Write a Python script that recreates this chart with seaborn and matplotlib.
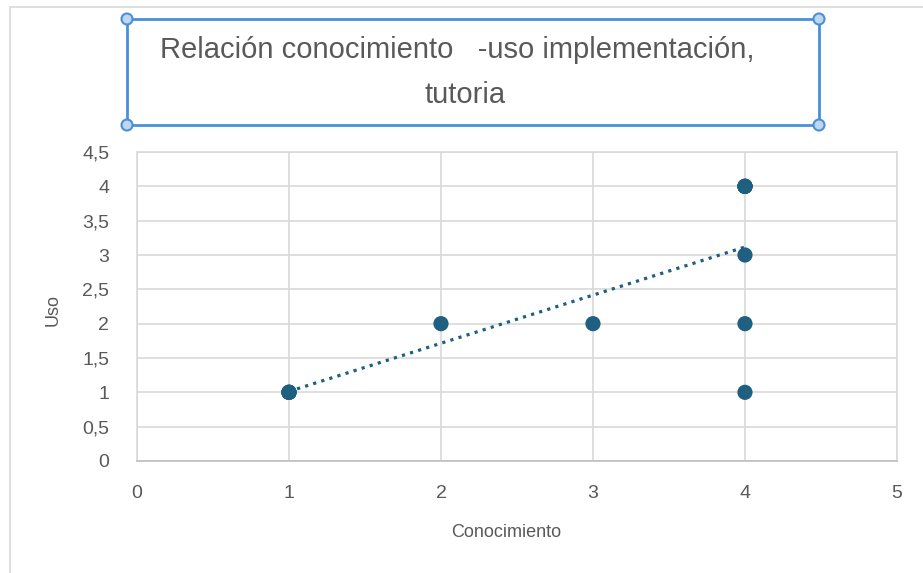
import numpy as np
import pandas as pd
import matplotlib
matplotlib.use("Agg")
import matplotlib.pyplot as plt
import seaborn as sns
from matplotlib.patches import Rectangle, Circle
from matplotlib.lines import Line2D

# data (duplicates at (1,1) and (4,4) explain the trend line)
conocimiento = [1, 1, 1, 1, 2, 3, 4, 4, 4, 4, 4, 4, 4]
uso = [1, 1, 1, 1, 2, 2, 4, 4, 4, 4, 3, 2, 1]
x_ticks = [0, 1, 2, 3, 4, 5]
y_ticks = [0, 0.5, 1, 1.5, 2, 2.5, 3, 3.5, 4, 4.5]
y_labels = ["0", "0,5", "1", "1,5", "2", "2,5", "3", "3,5", "4", "4,5"]

df = pd.DataFrame({"Conocimiento": conocimiento, "Uso": uso})

sns.set_theme(style="white")
plt.rcParams["font.family"] = ["Liberation Sans", "DejaVu Sans"]

text_col = "#595959"
grid_col = "#d9d9d9"
point_col = "#1f5f80"

fig = plt.figure(figsize=(9.23, 5.73), dpi=100)
ax = fig.add_axes([0.1484, 0.1955, 0.8234, 0.5392])

sns.regplot(data=df, x="Conocimiento", y="Uso", ax=ax, ci=None, truncate=True,
            color=point_col,
            scatter_kws={"s": 120, "alpha": 1, "edgecolor": "none", "zorder": 3},
            line_kws={"linestyle": ":", "linewidth": 2.3, "zorder": 2})

ax.set_xlim(0, 5)
ax.set_ylim(0, 4.5)
ax.set_xticks(x_ticks)
ax.set_xticklabels([str(t) for t in x_ticks])
ax.set_yticks(y_ticks)
ax.set_yticklabels(y_labels)
ax.grid(True, color=grid_col, linewidth=1.2)
ax.set_axisbelow(True)
for s in ax.spines.values():
    s.set_color(grid_col)
    s.set_linewidth(1.2)
ax.spines["bottom"].set_color("#bfbfbf")
ax.tick_params(axis="both", length=0, labelsize=14, colors=text_col)
ax.tick_params(axis="x", pad=17)
ax.tick_params(axis="y", pad=20)
ax.set_xlabel("Conocimiento", fontsize=13, color=text_col)
ax.set_ylabel("Uso", fontsize=13, color=text_col)
ax.xaxis.set_label_coords(0.4855, -0.205)
ax.yaxis.set_label_coords(-0.099, 0.49)

# outer chart frame (top and left edges visible)
fig.add_artist(Line2D([10 / 923, 1], [1 - 7 / 573, 1 - 7 / 573], transform=fig.transFigure,
                      color=grid_col, linewidth=1.2))
fig.add_artist(Line2D([10 / 923, 10 / 923], [0, 1 - 7 / 573], transform=fig.transFigure,
                      color=grid_col, linewidth=1.2))

# selected title box
x0, x1 = 127 / 923, 819 / 923
y0, y1 = 1 - 125 / 573, 1 - 19 / 573
fig.add_artist(Rectangle((x0, y0), x1 - x0, y1 - y0, transform=fig.transFigure,
                         fill=False, edgecolor="#4a90d9", linewidth=2))
for cx in (x0, x1):
    for cy in (y0, y1):
        fig.add_artist(Circle((cx * 923, cy * 573), 5.5, transform=None,
                              facecolor="#bdd7ee", edgecolor="#4a90d9", linewidth=1.5,
                              zorder=5))
fig.text(457 / 923, 1 - 50 / 573, "Relación conocimiento   -uso implementación,",
         ha="center", va="center", fontsize=21, color=text_col)
fig.text(465 / 923, 1 - 95 / 573, "tutoria",
         ha="center", va="center", fontsize=21, color=text_col)

fig.savefig("out.png", dpi=100)
